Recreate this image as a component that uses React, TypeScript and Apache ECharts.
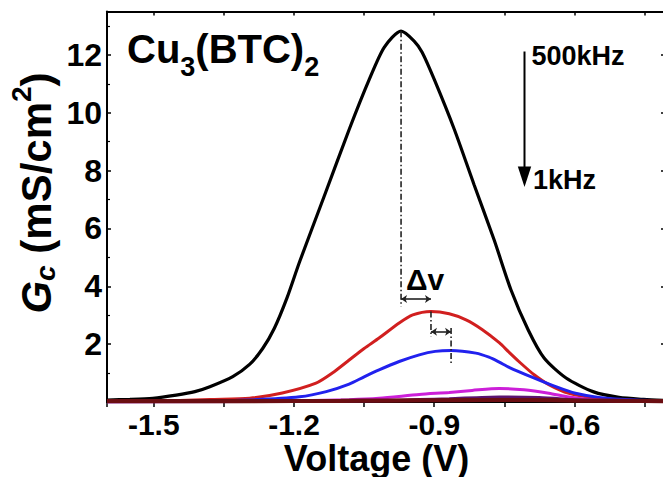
import React, { useEffect, useRef } from "react";
import * as echarts from "echarts";

// ---- data (voltage in V, conductance in mS/cm^2) ----
const blackV = [-1.6, -1.551, -1.502, -1.452, -1.412, -1.38, -1.331, -1.295, -1.267, -1.242, -1.215, -1.188, -1.135, -1.082, -1.039, -1.007, -0.971, -0.943, -0.926, -0.9, -0.857, -0.815, -0.772, -0.736, -0.699, -0.665, -0.618, -0.559, -0.505, -0.452, -0.4];
const blackG = [0.07, 0.09, 0.13, 0.24, 0.36, 0.53, 0.88, 1.3, 1.85, 2.55, 3.6, 4.85, 7.13, 9.42, 11.15, 12.26, 12.82, 12.48, 12.09, 11.15, 9.42, 7.52, 5.61, 3.88, 2.49, 1.52, 0.83, 0.35, 0.16, 0.09, 0.05];

const redV = [-1.6, -1.509, -1.444, -1.38, -1.295, -1.225, -1.153, -1.118, -1.082, -1.05, -1.018, -0.975, -0.946, -0.907, -0.868, -0.832, -0.797, -0.761, -0.74, -0.719, -0.687, -0.655, -0.612, -0.548, -0.484, -0.4];
const redG = [0.02, 0.03, 0.05, 0.09, 0.13, 0.31, 0.65, 1.0, 1.45, 1.85, 2.21, 2.73, 3.01, 3.13, 3.05, 2.84, 2.5, 2.05, 1.72, 1.4, 0.95, 0.6, 0.3, 0.12, 0.06, 0.03];

const blueV = [-1.6, -1.402, -1.295, -1.188, -1.131, -1.082, -1.05, -1.018, -0.975, -0.932, -0.898, -0.864, -0.811, -0.783, -0.761, -0.74, -0.691, -0.64, -0.598, -0.548, -0.469, -0.4];
const blueG = [0.01, 0.03, 0.07, 0.18, 0.36, 0.62, 0.87, 1.11, 1.4, 1.63, 1.75, 1.78, 1.69, 1.55, 1.38, 1.2, 0.86, 0.53, 0.3, 0.16, 0.07, 0.05];

const magentaV = [-1.6, -1.295, -1.188, -1.082, -1.018, -0.932, -0.868, -0.819, -0.761, -0.708, -0.655, -0.612, -0.569, -0.484, -0.4];
const magentaG = [0.0, 0.02, 0.04, 0.08, 0.13, 0.26, 0.33, 0.4, 0.47, 0.42, 0.3, 0.17, 0.09, 0.03, 0.02];

const purpleV = [-1.6, -1.188, -1.018, -0.932, -0.868, -0.761, -0.676, -0.584, -0.484, -0.4];
const purpleG = [0.0, 0.01, 0.04, 0.09, 0.12, 0.18, 0.16, 0.07, 0.02, 0.01];

const maroonV = [-1.6, -1.3, -1.1, -1.0, -0.9, -0.8, -0.7, -0.6, -0.5, -0.4];
const maroonG = [0.03, 0.03, 0.04, 0.05, 0.06, 0.07, 0.07, 0.05, 0.04, 0.03];

// peak positions used for the Δv annotation (V)
const peakV = [-0.971, -0.907, -0.864];
// vertical extents of the dash-dot guide lines (G)
const guideTop = [12.82, 3.13, 2.56];
const guideBottom = [3.3, 2.26, 1.3];
// heights of the two Δv arrows (G)
const arrowG = [3.56, 2.43];

const xTickLabels = [-1.5, -1.2, -0.9, -0.6];
const yTickLabels = [2, 4, 6, 8, 10, 12];

const FONT = "'Liberation Sans', Arial, Helvetica, sans-serif";

export default function App() {
  const ref = useRef<HTMLDivElement>(null);

  useEffect(() => {
    const chart = echarts.init(ref.current as HTMLDivElement, null, { renderer: "svg" });
    const pair = (v: number[], g: number[]) => v.map((x, i) => [x, g[i]]);
    const dashDot = [6, 2.5, 1.5, 2.5];

    const curve = (name: string, v: number[], g: number[], color: string, width: number, z: number) => ({
      name,
      type: "line",
      data: pair(v, g),
      symbol: "none",
      smooth: 0.25,
      z,
      lineStyle: { color, width },
      silent: true,
    });

    const guide = (i: number) => ({
      type: "line",
      data: [
        [peakV[i], guideTop[i]],
        [peakV[i], guideBottom[i]],
      ],
      symbol: "none",
      z: 20,
      silent: true,
      lineStyle: { color: "#222", width: 1.6, type: dashDot },
    });

    const xCommon = {
      type: "value",
      min: -1.6,
      max: -0.4,
      minInterval: 0.15,
      maxInterval: 0.15,
      splitLine: { show: false },
      axisLine: { show: true, onZero: false, lineStyle: { color: "#000", width: 2 } },
    };

    const yCommon = {
      type: "value",
      min: 0,
      max: 13.5,
      interval: 2,
      splitLine: { show: false },
      axisLine: { show: true, onZero: false, lineStyle: { color: "#000", width: 2 } },
      minorTick: { show: true, splitNumber: 2, length: 3, lineStyle: { color: "#000", width: 1.2 } },
    };

    chart.setOption({
      animation: false,
      backgroundColor: "#fff",
      grid: { left: 107, right: 12, top: 11.5, bottom: 75, containLabel: false },
      xAxis: [
        {
          ...xCommon,
          position: "bottom",
          axisTick: { show: true, inside: false, length: 5, lineStyle: { color: "#000", width: 1.5 } },
          axisLabel: {
            show: true,
            margin: 7,
            color: "#000",
            fontSize: 30,
            lineHeight: 30,
            fontWeight: "bold",
            fontFamily: FONT,
            formatter: (v: number) => (xTickLabels.some((t) => Math.abs(t - v) < 1e-6) ? v.toFixed(1) : ""),
          },
        },
        {
          ...xCommon,
          position: "top",
          axisTick: { show: true, inside: true, length: 4, lineStyle: { color: "#000", width: 1.5 } },
          axisLabel: { show: false },
        },
      ],
      yAxis: [
        {
          ...yCommon,
          position: "left",
          axisTick: { show: true, inside: true, length: 4, lineStyle: { color: "#000", width: 1.5 } },
          axisLabel: {
            margin: 5,
            color: "#000",
            fontSize: 32,
            fontWeight: "bold",
            fontFamily: FONT,
            formatter: (v: number) => (yTickLabels.includes(v) ? String(v) : ""),
          },
        },
        {
          ...yCommon,
          position: "right",
          axisTick: { show: true, inside: true, length: 7, lineStyle: { color: "#000", width: 1.5 } },
          axisLabel: { show: false },
        },
      ],
      series: [
        curve("500kHz", blackV, blackG, "#000000", 3.2, 5),
        curve("100kHz", redV, redG, "#d11f1f", 3, 6),
        curve("50kHz", blueV, blueG, "#2121ee", 3, 7),
        curve("10kHz", magentaV, magentaG, "#cc1fd8", 3, 8),
        curve("5kHz", purpleV, purpleG, "#5a1470", 2.6, 9),
        curve("1kHz", maroonV, maroonG, "#6b0e12", 4.2, 10),
        guide(0),
        guide(1),
        {
          ...guide(2),
          markLine: {
            silent: true,
            symbol: ["arrow", "arrow"],
            symbolSize: 6,
            label: { show: false },
            lineStyle: { color: "#222", width: 1.6, type: "solid" },
            data: [
              [{ coord: [peakV[0], arrowG[0]] }, { coord: [peakV[1], arrowG[0]] }],
              [{ coord: [peakV[1], arrowG[1]] }, { coord: [peakV[2], arrowG[1]] }],
            ],
          },
        },
      ],
      graphic: [
        {
          type: "text",
          x: 127,
          y: 29,
          z: 100,
          style: {
            text: "{a|Cu}{s|3}{a|(BTC)}{s|2}",
            textAlign: "left",
            textVerticalAlign: "top",
            fill: "#000",
            rich: {
              a: { fontSize: 40, lineHeight: 40, fontWeight: "bold", fontFamily: FONT, verticalAlign: "top" },
              s: { fontSize: 27, lineHeight: 27, fontWeight: "bold", fontFamily: FONT, verticalAlign: "top", padding: [24, 0, 0, 0] },
            },
          },
        },
        {
          type: "text",
          x: 7,
          y: 193,
          rotation: Math.PI / 2,
          z: 100,
          style: {
            text: "{g|G}{c|c}{m| (mS/cm}{p|2}{m|)}",
            textAlign: "center",
            textVerticalAlign: "top",
            fill: "#000",
            rich: {
              g: { fontSize: 42, lineHeight: 42, fontWeight: "bold", fontStyle: "italic", fontFamily: FONT, verticalAlign: "top", padding: [8, 0, 0, 0] },
              c: { fontSize: 28, lineHeight: 28, fontWeight: "bold", fontStyle: "italic", fontFamily: FONT, verticalAlign: "top", padding: [24, 0, 0, 0] },
              m: { fontSize: 42, lineHeight: 42, fontWeight: "bold", fontFamily: FONT, verticalAlign: "top", padding: [8, 0, 0, 0] },
              p: { fontSize: 28, lineHeight: 28, fontWeight: "bold", fontFamily: FONT, verticalAlign: "top" },
            },
          },
        },
        {
          type: "text",
          x: 376.5,
          y: 458,
          z: 100,
          style: {
            text: "Voltage (V)",
            textAlign: "center",
            textVerticalAlign: "middle",
            fill: "#000",
            fontSize: 36,
            lineHeight: 36,
            fontWeight: "bold",
            fontFamily: FONT,
          },
        },
        {
          type: "text",
          x: 531.5,
          y: 56,
          z: 100,
          style: { text: "500kHz", textAlign: "left", textVerticalAlign: "middle", fill: "#000", fontSize: 27, fontWeight: "bold", fontFamily: FONT },
        },
        {
          type: "text",
          x: 533,
          y: 180,
          z: 100,
          style: { text: "1kHz", textAlign: "left", textVerticalAlign: "middle", fill: "#000", fontSize: 27, fontWeight: "bold", fontFamily: FONT },
        },
        {
          type: "line",
          z: 100,
          shape: { x1: 524.5, y1: 51.5, x2: 524.5, y2: 172 },
          style: { stroke: "#000", lineWidth: 2 },
        },
        {
          type: "polygon",
          z: 100,
          shape: { points: [[517.8, 166.5], [531.2, 166.5], [524.5, 187]] },
          style: { fill: "#000" },
        },
        {
          type: "text",
          x: 425,
          y: 279,
          z: 100,
          style: { text: "Δv", textAlign: "center", textVerticalAlign: "middle", fill: "#000", fontSize: 30, fontWeight: "bold", fontFamily: FONT },
        },
      ],
    });

    return () => chart.dispose();
  }, []);

  return (
    <div style={{ position: "fixed", left: 0, top: 0, width: 663, height: 477, overflow: "hidden", background: "#fff" }}>
      <div ref={ref} style={{ width: 680, height: 477 }} />
    </div>
  );
}
